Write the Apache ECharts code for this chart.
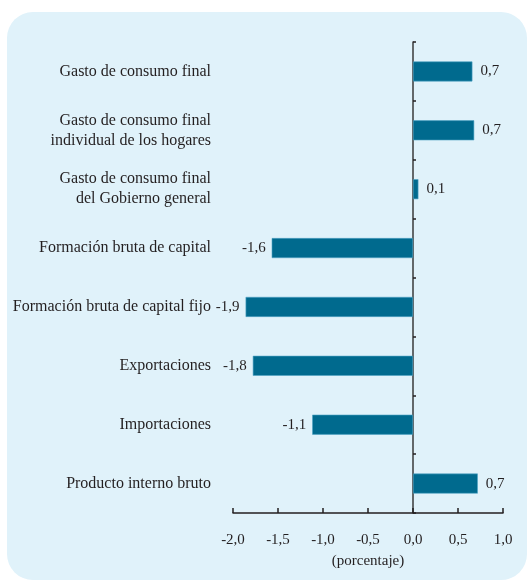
<!DOCTYPE html>
<html>
<head>
<meta charset="utf-8">
<script src="https://cdn.jsdelivr.net/npm/echarts@6/dist/echarts.min.js"></script>
<style>
  html, body { margin: 0; padding: 0; background: #ffffff; }
  #bg { position: absolute; left: 7px; top: 12px; width: 520px; height: 568px;
        background: #e0f2fa; border-radius: 26px; }
  #chart { position: absolute; left: 0; top: 0; width: 527px; height: 580px; }
</style>
</head>
<body>
<div id="bg"></div>
<div id="chart"></div>
<script>
// categorías (de arriba hacia abajo)
const categories = [
  'Gasto de consumo final',
  'Gasto de consumo final\nindividual de los hogares',
  'Gasto de consumo final\ndel Gobierno general',
  'Formación bruta de capital',
  'Formación bruta de capital fijo',
  'Exportaciones',
  'Importaciones',
  'Producto interno bruto'
];
// variación en porcentaje
const values = [0.66, 0.68, 0.06, -1.57, -1.86, -1.78, -1.12, 0.72];
// eje x
const xTicks = [-2.0, -1.5, -1.0, -0.5, 0.0, 0.5, 1.0];

const fmt = v => v.toFixed(1).replace('.', ',');
const font = '"Liberation Serif", "DejaVu Serif", serif';
const ink = '#231f20';

const myChart = echarts.init(document.getElementById('chart'));

const option = {
  animation: false,
  textStyle: { fontFamily: font, color: ink },
  grid: { left: 233, right: 24, top: 42, bottom: 67, containLabel: false, outerBoundsMode: 'none' },
  xAxis: {
    type: 'value',
    min: xTicks[0],
    max: xTicks[xTicks.length - 1],
    interval: 0.5,
    splitLine: { show: false },
    axisLine: { show: true, onZero: false, lineStyle: { color: ink, width: 1.5 } },
    axisTick: { show: true, inside: true, length: 5, lineStyle: { color: ink, width: 1.5 } },
    axisLabel: {
      formatter: fmt, fontFamily: font, fontSize: 15, color: ink, margin: 20,
      showMinLabel: true, showMaxLabel: true, hideOverlap: false
    },
    name: '(porcentaje)',
    nameLocation: 'middle',
    nameGap: 41,
    nameTextStyle: { fontFamily: font, fontSize: 15, color: ink }
  },
  yAxis: {
    type: 'category',
    inverse: true,
    data: categories,
    axisLine: { show: true, onZero: true, lineStyle: { color: '#3a3a3a', width: 1.5 } },
    axisTick: { show: true, inside: true, length: 3, lineStyle: { color: ink, width: 1.5 } },
    axisLabel: {
      fontFamily: font, fontSize: 16, color: ink, margin: 22,
      align: 'right', lineHeight: 20
    }
  },
  series: [{
    type: 'bar',
    data: values.map(v => ({
      value: v,
      label: { position: v >= 0 ? 'right' : 'left', distance: v >= 0 ? 8 : 6 }
    })),
    barWidth: 20,
    itemStyle: { color: '#006a8e', borderColor: '#4fa3c4', borderWidth: 0.6 },
    label: {
      show: true,
      formatter: p => fmt(p.value),
      fontFamily: font, fontSize: 15, color: ink
    }
  }]
};

option && myChart.setOption(option);
</script>
</body>
</html>
